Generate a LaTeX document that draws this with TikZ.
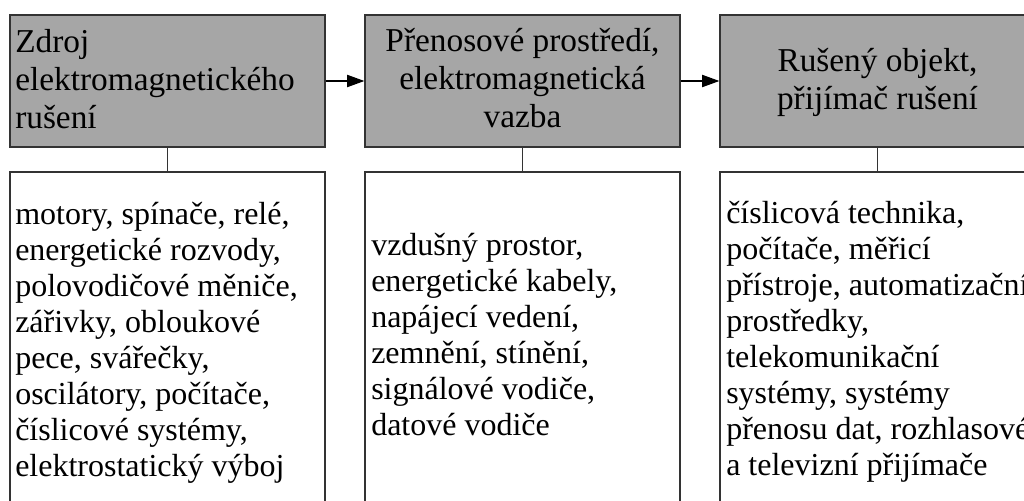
\documentclass[tikz,border=0pt]{standalone}
\usepackage{fontspec}
\setmainfont{Liberation Serif}
\usetikzlibrary{arrows.meta}
\definecolor{boxgray}{HTML}{A6A6A6}
\definecolor{edgegray}{HTML}{333333}
\tikzset{
  topbox/.style={draw=edgegray, line width=0.8pt, fill=boxgray, minimum width=236.25pt, minimum height=99pt, inner sep=0pt},
  lowbox/.style={draw=edgegray, line width=0.8pt, fill=white, minimum width=236.25pt, minimum height=253.5pt, inner sep=0pt},
  toptext/.style={inner sep=0pt, font=\fontsize{25}{28.5}\selectfont},
  lowtext/.style={inner sep=0pt, align=left, anchor=west, font=\fontsize{24}{27}\selectfont},
  flow/.style={line width=1.5pt, -{Triangle[length=13pt,width=9pt]}},
  link/.style={draw=edgegray, line width=0.6pt}
}
\begin{document}
\begin{tikzpicture}[x=0.75pt, y=-0.75pt]
\useasboundingbox (0,0) rectangle (1024,500);
\clip (0,0) rectangle (1024,500);
\fill[white] (0,0) rectangle (1024,500);
% top boxes
\node[topbox] (t1) at (167.5,81) {};
\node[topbox] (t2) at (522.5,81) {};
\node[topbox] (t3) at (877.5,81) {};
% lower boxes
\node[lowbox] (b1) at (167.5,341) {};
\node[lowbox] (b2) at (522.5,341) {};
\node[lowbox] (b3) at (877.5,341) {};
% texts
\node[toptext, align=left, anchor=west] (t1txt) at (15,79) {Zdroj\\elektromagnetického\\rušení};
\node[toptext, align=center] (t2txt) at (522.5,78) {Přenosové prostředí,\\elektromagnetická\\vazba};
\node[toptext, align=center] (t3txt) at (877.5,82) {Rušený objekt,\\přijímač rušení};
\node[lowtext] (b1txt) at (15,342.5) {motory, spínače, relé,\\energetické rozvody,\\polovodičové měniče,\\zářivky, obloukové\\pece, svářečky,\\oscilátory, počítače,\\číslicové systémy,\\elektrostatický výboj};
\node[lowtext] (b2txt) at (371,335) {vzdušný prostor,\\energetické kabely,\\napájecí vedení,\\zemnění, stínění,\\signálové vodiče,\\datové vodiče};
\node[lowtext] (b3txt) at (726,341.5) {číslicová technika,\\počítače, měřicí\\přístroje, automatizační\\prostředky,\\telekomunikační\\systémy, systémy\\přenosu dat, rozhlasové\\a televizní přijímače};
% connectors
\draw[flow] (t1.east) -- (t2.west);
\draw[flow] (t2.east) -- (t3.west);
\draw[link] (t1.south) -- (b1.north);
\draw[link] (t2.south) -- (b2.north);
\draw[link] (t3.south) -- (b3.north);
\end{tikzpicture}
\end{document}
